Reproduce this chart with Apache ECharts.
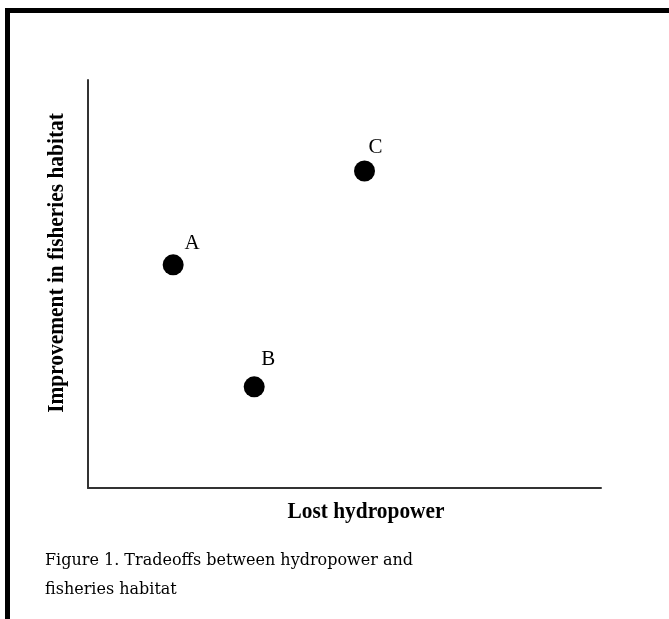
<!DOCTYPE html>
<html>
<head>
<meta charset="utf-8">
<script src="https://cdn.jsdelivr.net/npm/echarts@6/dist/echarts.min.js"></script>
<style>
html,body{margin:0;padding:0;background:#fff;}
#chart{width:669px;height:619px;}
</style>
</head>
<body>
<div id="chart"></div>
<script>
// Data
const pointNames = ['A', 'B', 'C'];
const lostHydropower = [16.6, 32.4, 53.9];
const habitatImprovement = [54.7, 24.8, 77.7];
const xAxisTitle = 'Lost hydropower';
const yAxisTitle = 'Improvement in fisheries habitat';
const captionLines = ['Figure 1. Tradeoffs between hydropower and', 'fisheries habitat'];

const labelOffsets = { A: [19, -21], B: [14, -27], C: [11, -23] };

const chart = echarts.init(document.getElementById('chart'), null, { renderer: 'canvas' });

const seriesData = pointNames.map((n, i) => ({
  name: n,
  value: [lostHydropower[i], habitatImprovement[i]],
  label: { offset: labelOffsets[n] }
}));

const option = {
  animation: false,
  backgroundColor: '#ffffff',
  grid: { left: 88, top: 80, right: 68, bottom: 131, containLabel: false },
  xAxis: {
    type: 'value', min: 0, max: 100,
    axisLine: { show: true, onZero: false, lineStyle: { color: '#333', width: 2 } },
    axisTick: { show: false }, axisLabel: { show: false }, splitLine: { show: false }
  },
  yAxis: {
    type: 'value', min: 0, max: 100,
    axisLine: { show: true, onZero: false, lineStyle: { color: '#333', width: 2 } },
    axisTick: { show: false }, axisLabel: { show: false }, splitLine: { show: false }
  },
  series: [{
    type: 'scatter',
    symbol: 'circle',
    symbolSize: 21,
    itemStyle: { color: '#000', opacity: 1 },
    label: {
      show: true,
      position: 'inside',
      formatter: p => p.name,
      color: '#000',
      opacity: 1,
      fontFamily: 'Liberation Serif',
      fontSize: 21
    },
    data: seriesData
  }],
  graphic: [
    // page border: top and left
    { type: 'rect', shape: { x: 5, y: 8, width: 664, height: 5 }, style: { fill: '#000' } },
    { type: 'rect', shape: { x: 5, y: 8, width: 5, height: 611 }, style: { fill: '#000' } },
    {
      type: 'text', x: 366, y: 512, scaleX: 0.93,
      style: { text: xAxisTitle, font: 'bold 23px "Liberation Serif"', fill: '#000', align: 'center', verticalAlign: 'middle' }
    },
    {
      type: 'text', x: 57, y: 263, rotation: Math.PI / 2, scaleX: 0.93,
      style: { text: yAxisTitle, font: 'bold 23px "Liberation Serif"', fill: '#000', align: 'center', verticalAlign: 'middle' }
    },
    {
      type: 'text', x: 45, y: 561,
      style: { text: captionLines[0], font: '16px "DejaVu Serif"', fill: '#000', align: 'left', verticalAlign: 'middle' }
    },
    {
      type: 'text', x: 45, y: 590,
      style: { text: captionLines[1], font: '16px "DejaVu Serif"', fill: '#000', align: 'left', verticalAlign: 'middle' }
    }
  ]
};
chart.setOption(option);
</script>
</body>
</html>
